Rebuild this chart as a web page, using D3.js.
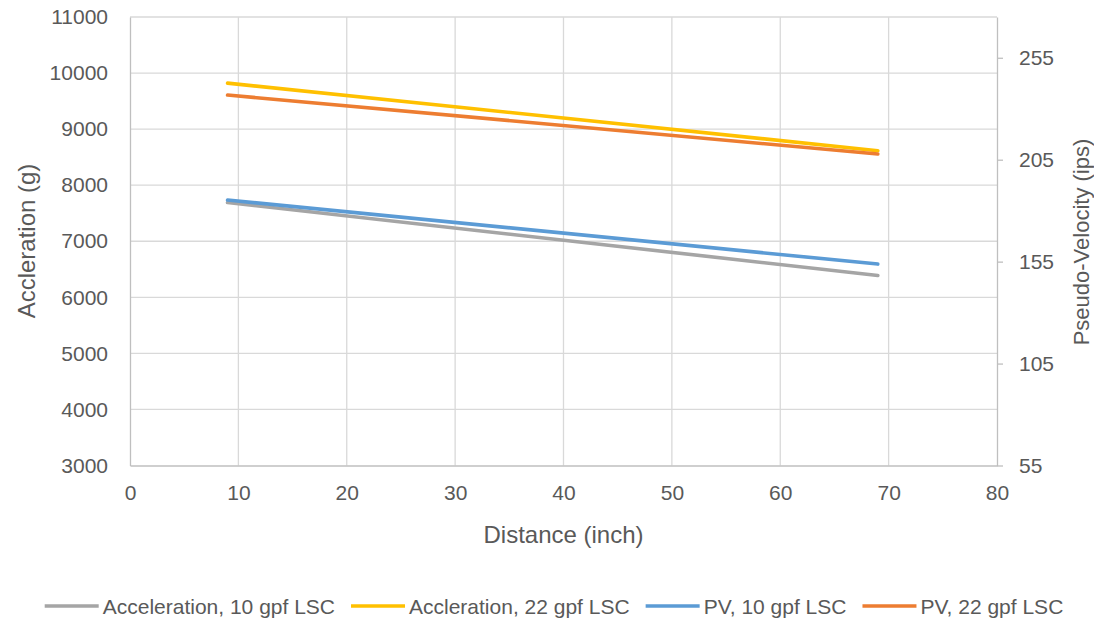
<!DOCTYPE html>
<html>
<head>
<meta charset="utf-8">
<script src="https://cdn.jsdelivr.net/npm/d3@7"></script>
<style>
  body { margin: 0; background: #fff; }
  text { font-family: "Liberation Sans", Arial, sans-serif; fill: #595959; }
</style>
</head>
<body>
<svg id="chart" width="1094" height="621"></svg>
<script>
// data
const distance = [9, 69];
const accel10 = [7690, 6390];
const accel22 = [9820, 8615];
const pv10 = [185.2, 153.8];
const pv22 = [236.7, 207.8];

const xTicks = d3.range(0, 81, 10);
const leftTicks = d3.range(3000, 11001, 1000);
const rightTicks = [55, 105, 155, 205, 255];

const series = [
  {label: 'Acceleration, 10 gpf LSC', values: accel10, axis: 'left', color: '#a5a5a5'},
  {label: 'Accleration, 22 gpf LSC', values: accel22, axis: 'left', color: '#ffc000'},
  {label: 'PV, 10 gpf LSC', values: pv10, axis: 'right', color: '#5b9bd5'},
  {label: 'PV, 22 gpf LSC', values: pv22, axis: 'right', color: '#ed7d31'}
];

const box = {left: 130, right: 997, top: 17, bottom: 465.5};
const svg = d3.select('#chart');

const x = d3.scaleLinear().domain([0, 80]).range([box.left, box.right]);
const yL = d3.scaleLinear().domain([3000, 11000]).range([box.bottom, box.top]);
const yR = d3.scaleLinear().domain([55, 275]).range([box.bottom, box.top]);

// gridlines
const grid = svg.append('g').attr('class', 'grid');
grid.selectAll('line.h').data(leftTicks.slice(1)).join('line')
    .attr('x1', box.left).attr('x2', box.right)
    .attr('y1', d => yL(d)).attr('y2', d => yL(d))
    .attr('stroke', '#d9d9d9').attr('stroke-width', 1.3);
grid.selectAll('line.v').data(xTicks.slice(1, -1)).join('line')
    .attr('y1', box.top).attr('y2', box.bottom)
    .attr('x1', d => x(d)).attr('x2', d => x(d))
    .attr('stroke', '#d9d9d9').attr('stroke-width', 1.3);

// axes
function styleAxis(g) {
  g.select('.domain').attr('stroke', '#bfbfbf').attr('stroke-width', 1.3);
  g.selectAll('.tick line').attr('stroke', '#bfbfbf').attr('stroke-width', 1.3);
  g.selectAll('.tick text').style('font-size', '21px').attr('fill', '#595959')
    .style('font-family', '"Liberation Sans", Arial, sans-serif');
}

svg.append('g')
    .attr('transform', `translate(0,${box.bottom})`)
    .call(d3.axisBottom(x).tickValues(xTicks).tickSize(0).tickSizeOuter(0).tickPadding(20))
    .call(styleAxis);

svg.append('g')
    .attr('transform', `translate(${box.left},0)`)
    .call(d3.axisLeft(yL).tickValues(leftTicks).tickSize(0).tickSizeOuter(0).tickPadding(22).tickFormat(d3.format('d')))
    .call(styleAxis);

svg.append('g')
    .attr('transform', `translate(${box.right},0)`)
    .call(d3.axisRight(yR).tickValues(rightTicks).tickSize(6).tickSizeOuter(0).tickPadding(16))
    .call(styleAxis);

// series lines
const line = s => d3.line()
    .x((d, i) => x(distance[i]))
    .y(d => (s.axis === 'left' ? yL : yR)(d));

svg.append('g').selectAll('path').data(series).join('path')
    .attr('d', s => line(s)(s.values))
    .attr('fill', 'none')
    .attr('stroke', s => s.color)
    .attr('stroke-width', 3.6)
    .attr('stroke-linecap', 'round');

// axis titles
svg.append('text')
    .attr('x', (box.left + box.right) / 2).attr('y', 543)
    .attr('text-anchor', 'middle').style('font-size', '24px')
    .text('Distance (inch)');

svg.append('text')
    .attr('transform', `translate(35,241) rotate(-90)`)
    .attr('text-anchor', 'middle').style('font-size', '24px')
    .text('Accleration (g)');

svg.append('text')
    .attr('transform', `translate(1089,242) rotate(-90)`)
    .attr('text-anchor', 'middle').style('font-size', '22px')
    .text('Pseudo-Velocity (ips)');

// legend
const legend = svg.append('g').attr('class', 'legend');
const items = legend.selectAll('g').data(series).join('g');
items.append('line')
    .attr('x1', 0).attr('x2', 54).attr('y1', 0).attr('y2', 0)
    .attr('stroke', s => s.color).attr('stroke-width', 3.6);
items.append('text')
    .attr('x', 58).attr('y', 7.5)
    .style('font-size', '21px')
    .text(s => s.label);

let offset = 0;
items.each(function () {
  const g = d3.select(this);
  g.attr('transform', `translate(${offset},0)`);
  offset += 58 + g.select('text').node().getComputedTextLength() + 16;
});
offset -= 16;
legend.attr('transform', `translate(${554 - offset / 2},606)`);
</script>
</body>
</html>
